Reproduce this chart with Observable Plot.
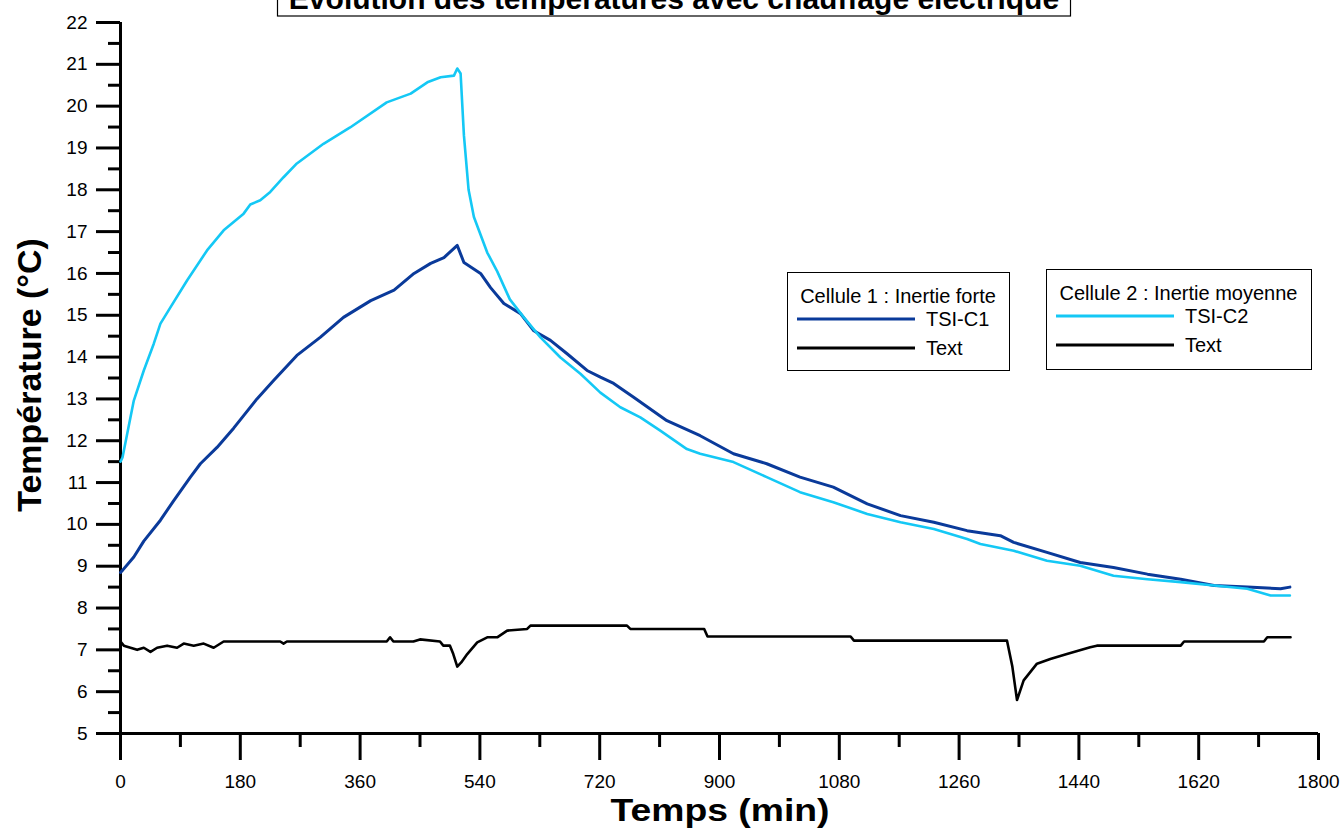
<!DOCTYPE html>
<html>
<head>
<meta charset="utf-8">
<script src="https://cdn.jsdelivr.net/npm/d3@7"></script>
<script src="https://cdn.jsdelivr.net/npm/@observablehq/plot@0.6"></script>
<style>
  html, body { margin: 0; padding: 0; background: #fff; }
  #wrap { position: relative; width: 1341px; height: 828px; overflow: hidden; font-family: "Liberation Sans", Arial, sans-serif; }
  #wrap > svg { position: absolute; left: 0; top: 0; }
  .plotc text { font-size: 19px; fill: #000; }
</style>
</head>
<body>
<div id="wrap"></div>
<script>
// ---- Data ----
const timeC1 = [0, 3, 20, 35, 60, 80, 105, 120, 145, 170, 185, 205, 230, 265, 300, 335, 376, 411, 441, 466, 486, 506, 516, 541, 556, 576, 601, 621, 646, 671, 701, 721, 741, 771, 821, 871, 921, 971, 1021, 1071, 1122, 1172, 1222, 1272, 1322, 1342, 1392, 1442, 1492, 1543, 1593, 1643, 1693, 1743, 1757];
const tempC1 = [8.85, 8.9, 9.22, 9.6, 10.1, 10.57, 11.13, 11.45, 11.84, 12.3, 12.6, 13.0, 13.44, 14.04, 14.47, 14.95, 15.35, 15.6, 16.0, 16.24, 16.38, 16.67, 16.26, 16.0, 15.66, 15.28, 15.04, 14.63, 14.4, 14.08, 13.68, 13.52, 13.37, 13.04, 12.48, 12.12, 11.69, 11.45, 11.13, 10.89, 10.49, 10.21, 10.05, 9.85, 9.73, 9.57, 9.33, 9.09, 8.97, 8.81, 8.69, 8.54, 8.5, 8.46, 8.5];

const timeC2 = [0, 3, 20, 35, 50, 60, 75, 100, 130, 155, 185, 195, 210, 225, 245, 265, 305, 345, 400, 436, 461, 481, 501, 506, 511, 516, 523, 531, 551, 566, 585, 606, 631, 661, 691, 721, 751, 781, 811, 851, 871, 921, 971, 1021, 1071, 1122, 1172, 1222, 1272, 1292, 1342, 1392, 1442, 1492, 1543, 1593, 1643, 1693, 1728, 1757];
const tempC2 = [11.5, 11.6, 12.96, 13.68, 14.32, 14.8, 15.19, 15.83, 16.55, 17.03, 17.43, 17.65, 17.75, 17.95, 18.3, 18.63, 19.1, 19.49, 20.09, 20.3, 20.57, 20.69, 20.73, 20.9, 20.78, 19.3, 18.0, 17.35, 16.5, 16.05, 15.38, 14.95, 14.47, 13.99, 13.6, 13.15, 12.8, 12.56, 12.24, 11.8, 11.69, 11.49, 11.13, 10.77, 10.53, 10.25, 10.05, 9.89, 9.65, 9.53, 9.37, 9.13, 9.01, 8.77, 8.69, 8.62, 8.54, 8.46, 8.3, 8.3];

const timeExt = [0, 5, 15, 25, 35, 45, 55, 70, 85, 95, 110, 125, 140, 155, 240, 245, 250, 400, 405, 410, 440, 450, 480, 485, 495, 500, 506, 512, 521, 536, 551, 566, 581, 611, 616, 761, 766, 877, 882, 1097, 1102, 1332, 1340, 1347, 1357, 1377, 1397, 1422, 1457, 1467, 1497, 1593, 1598, 1718, 1723, 1758];
const tempExt = [7.2, 7.1, 7.05, 7.0, 7.05, 6.95, 7.05, 7.1, 7.05, 7.15, 7.1, 7.15, 7.05, 7.2, 7.2, 7.15, 7.2, 7.2, 7.3, 7.2, 7.2, 7.25, 7.2, 7.1, 7.1, 6.9, 6.6, 6.7, 6.9, 7.18, 7.3, 7.3, 7.46, 7.5, 7.58, 7.58, 7.5, 7.5, 7.32, 7.32, 7.22, 7.22, 6.6, 5.8, 6.27, 6.67, 6.78, 6.9, 7.06, 7.1, 7.1, 7.1, 7.2, 7.2, 7.3, 7.3];

const yMajor = [5, 6, 7, 8, 9, 10, 11, 12, 13, 14, 15, 16, 17, 18, 19, 20, 21, 22];
const yMinor = [5.5, 6.5, 7.5, 8.5, 9.5, 10.5, 11.5, 12.5, 13.5, 14.5, 15.5, 16.5, 17.5, 18.5, 19.5, 20.5, 21.5];
const xMajor = [0, 180, 360, 540, 720, 900, 1080, 1260, 1440, 1620, 1800];
const xMinor = [90, 270, 450, 630, 810, 990, 1170, 1350, 1530, 1710];

const titleText = "Évolution des températures avec chauffage électrique";
const xLabel = "Temps (min)";
const yLabel = "Température (°C)";
const legend1 = {title: "Cellule 1 : Inertie forte", items: [["TSI-C1", "#0A3A9A"], ["Text", "#000000"]]};
const legend2 = {title: "Cellule 2 : Inertie moyenne", items: [["TSI-C2", "#14C8F5"], ["Text", "#000000"]]};

const c1 = timeC1.map((t, i) => ({t, v: tempC1[i]}));
const c2 = timeC2.map((t, i) => ({t, v: tempC2[i]}));
const ext = timeExt.map((t, i) => ({t, v: tempExt[i]}));

const fmt = d => String(d);

const chart = Plot.plot({
  width: 1341,
  height: 828,
  marginLeft: 120,
  marginRight: 23,
  marginTop: 22,
  marginBottom: 95,
  className: "plotc",
  x: {domain: [0, 1800]},
  y: {domain: [5, 22]},
  style: {fontFamily: '"Liberation Sans", Arial, sans-serif', fontSize: "19px", background: "white", color: "black", overflow: "visible"},
  marks: [
    Plot.axisY(yMajor, {tickSize: 24, tickPadding: 9, strokeWidth: 3, tickFormat: fmt, label: null}),
    Plot.axisY(yMinor, {tickSize: 12, strokeWidth: 3, text: null, label: null}),
    Plot.axisX(xMajor, {tickSize: 27, tickPadding: 14, strokeWidth: 3, tickFormat: fmt, label: null}),
    Plot.axisX(xMinor, {tickSize: 14, strokeWidth: 3, text: null, label: null}),
    Plot.ruleX([0], {stroke: "black", strokeWidth: 3}),
    Plot.ruleY([5], {stroke: "black", strokeWidth: 3}),
    Plot.line(c1, {x: "t", y: "v", stroke: legend1.items[0][1], strokeWidth: 3}),
    Plot.line(ext, {x: "t", y: "v", stroke: "#000", strokeWidth: 2.6}),
    Plot.line(c2, {x: "t", y: "v", stroke: legend2.items[0][1], strokeWidth: 2.6})
  ]
});

const wrap = document.getElementById("wrap");
wrap.appendChild(chart);

// Overlay: title, axis labels, legend boxes (text kept as real text)
const ov = d3.select(wrap).append("svg")
  .attr("width", 1341).attr("height", 828)
  .style("position", "absolute").style("left", 0).style("top", 0)
  .style("font-family", '"Liberation Sans", Arial, sans-serif');

// Title box (partly above the top edge, as in the reference)
ov.append("rect").attr("x", 277.5).attr("y", -30).attr("width", 793).attr("height", 46)
  .attr("fill", "white").attr("stroke", "black").attr("stroke-width", 1.2);
ov.append("text").attr("x", 674).attr("y", 9).attr("text-anchor", "middle")
  .attr("font-size", 30).attr("font-weight", "bold").text(titleText);

// Axis titles
ov.append("text").attr("x", 720).attr("y", 821).attr("text-anchor", "middle")
  .attr("font-size", 32).attr("font-weight", "bold")
  .attr("textLength", 219).attr("lengthAdjust", "spacingAndGlyphs").text(xLabel);
ov.append("text").attr("transform", "translate(29,375) rotate(-90)").attr("dy", "0.35em")
  .attr("text-anchor", "middle").attr("font-size", 34).attr("font-weight", "bold").text(yLabel);

function drawLegend(lg, x, y, w, h) {
  const g = ov.append("g").attr("transform", `translate(${x},${y})`);
  g.append("rect").attr("x", 0.5).attr("y", 0.5).attr("width", w).attr("height", h)
    .attr("fill", "white").attr("stroke", "black").attr("stroke-width", 1);
  g.append("text").attr("x", w / 2).attr("y", 31).attr("text-anchor", "middle").attr("font-size", 20).text(lg.title);
  lg.items.forEach(([name, color], i) => {
    const yy = 47 + i * 29;
    g.append("line").attr("x1", 10).attr("x2", 128).attr("y1", yy).attr("y2", yy)
      .attr("stroke", color).attr("stroke-width", 3);
    g.append("text").attr("x", 139).attr("y", yy + 7).attr("font-size", 20).text(name);
  });
}
drawLegend(legend1, 787, 272, 222, 98);
drawLegend(legend2, 1046, 269, 265, 100);
</script>
</body>
</html>
